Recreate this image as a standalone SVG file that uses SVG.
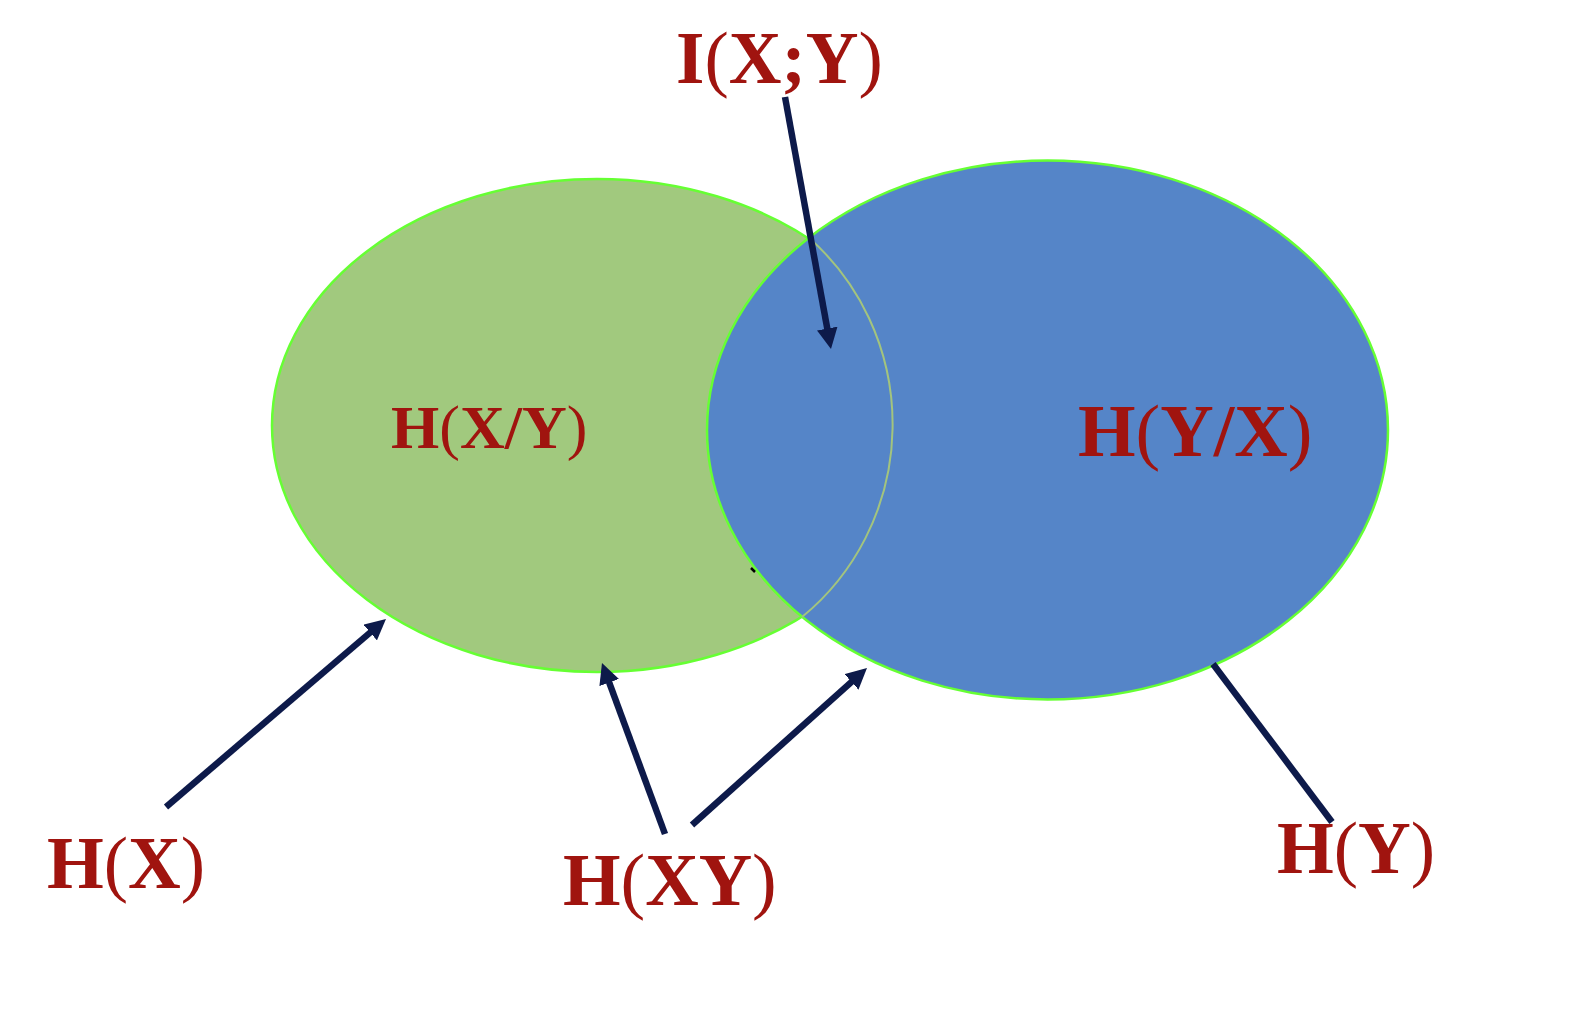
<svg xmlns="http://www.w3.org/2000/svg" width="1574" height="1016" viewBox="0 0 1574 1016">
  <defs>
    <style>
      .lbl { font-family: "Liberation Serif", "Times New Roman", serif; font-weight: bold; fill: #a0140f; }
      .p { font-weight: normal; }
      .conn { stroke: #0d1a4a; stroke-width: 6.5; fill: none; }
    </style>
    <marker id="arr" viewBox="0 0 10 10" refX="4" refY="5" markerWidth="3.2" markerHeight="3.2" orient="auto" markerUnits="strokeWidth">
      <path d="M0,0 L10,5 L0,10 z" fill="#0d1a4a"/>
    </marker>
  </defs>
  <rect width="1574" height="1016" fill="#ffffff"/>

  <g id="setX">
    <ellipse cx="597" cy="425.5" rx="325" ry="246.5" fill="#a1c97e" stroke="#66ff33" stroke-width="2.5"/>
  </g>
  <g id="setY">
    <ellipse cx="1047.5" cy="430" rx="340.5" ry="269.5" fill="#5585c8" stroke="#66ff33" stroke-width="2.5"/>
    <path d="M808,237 A240,246 0 0 1 802,617" fill="none" stroke="#a3c47e" stroke-width="2"/>
  </g>

  <g id="connectors">
    <line class="conn" x1="785" y1="97" x2="828.75" y2="336.7" marker-end="url(#arr)"/>
    <line class="conn" x1="166" y1="807" x2="376.5" y2="627.1" marker-end="url(#arr)"/>
    <line class="conn" x1="665" y1="834" x2="606.3" y2="674.7" marker-end="url(#arr)"/>
    <line class="conn" x1="692" y1="825" x2="857.7" y2="676.35" marker-end="url(#arr)"/>
    <line class="conn" x1="1332" y1="822" x2="1213" y2="664"/>
    <line x1="751" y1="568" x2="755" y2="572" stroke="#000000" stroke-width="2.5"/>
  </g>

  <g id="label-IXY">
    <text class="lbl" x="676" y="83" font-size="73">I<tspan class="p">(</tspan>X;Y<tspan class="p">)</tspan></text>
  </g>
  <g id="label-HXgY">
    <text class="lbl" x="391" y="448" font-size="62">H<tspan class="p">(</tspan>X/Y<tspan class="p">)</tspan></text>
  </g>
  <g id="label-HYgX">
    <text class="lbl" x="1078" y="456" font-size="74">H<tspan class="p">(</tspan>Y/X<tspan class="p">)</tspan></text>
  </g>
  <g id="label-HX">
    <text class="lbl" x="47" y="888" font-size="73">H<tspan class="p">(</tspan>X<tspan class="p">)</tspan></text>
  </g>
  <g id="label-HXY">
    <text class="lbl" x="563" y="905" font-size="74">H<tspan class="p">(</tspan>XY<tspan class="p">)</tspan></text>
  </g>
  <g id="label-HY">
    <text class="lbl" x="1277" y="873" font-size="73">H<tspan class="p">(</tspan>Y<tspan class="p">)</tspan></text>
  </g>
</svg>
